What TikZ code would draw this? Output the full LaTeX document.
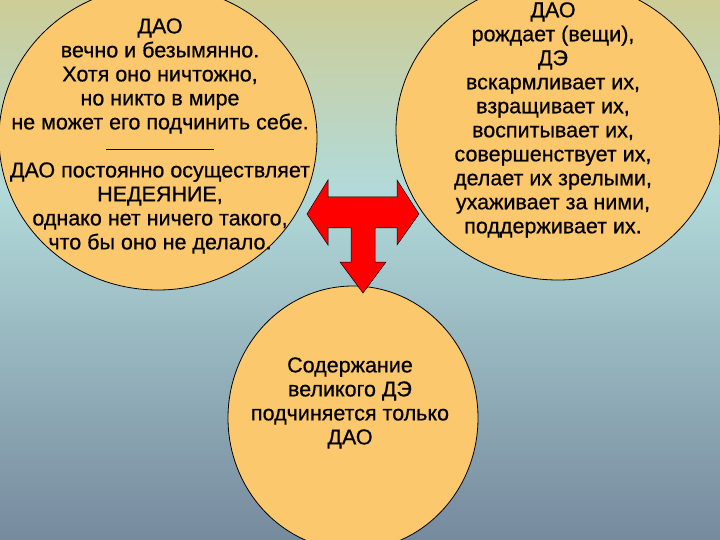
\documentclass[tikz,border=0pt]{standalone}
\usepackage{fontspec}
\setmainfont{Liberation Sans}[FakeBold=0.6]
\begin{document}
\begin{tikzpicture}[x=1pt,y=-1pt,
  circ/.style={fill={rgb,255:red,252;green,200;blue,110},draw=black,line width=0.8pt},
  txt/.style={align=center,font=\fontsize{21.5}{24}\selectfont}]
\useasboundingbox (0,0) rectangle (720,540);
\shade[top color={rgb,255:red,205;green,205;blue,150},bottom color={rgb,255:red,178;green,218;blue,218}] (0,0) rectangle (720,190);
\shade[top color={rgb,255:red,178;green,218;blue,218},bottom color={rgb,255:red,118;green,138;blue,158}] (0,190) rectangle (720,540);
\begin{scope}
\clip (0,0) rectangle (720,540);
\path[circ] (158,138) ellipse [x radius=159,y radius=152];
\path[circ] (558,130) ellipse [x radius=162,y radius=150];
\path[circ] (353,418) ellipse [x radius=125,y radius=132];
\end{scope}
\node[txt] (left) at (160,136) {ДАО\\вечно и безымянно.\\Хотя оно ничтожно,\\но никто в мире\\не может его подчинить себе.\\\rule[0.3ex]{107pt}{0.8pt}\\ДАО постоянно осуществляет\\НЕДЕЯНИЕ,\\однако нет ничего такого,\\что бы оно не делало.};
\node[txt] (right) at (553,120) {ДАО\\рождает (вещи),\\ДЭ\\вскармливает их,\\взращивает их,\\воспитывает их,\\совершенствует их,\\делает их зрелыми,\\ухаживает за ними,\\поддерживает их.};
\node[txt] (bottom) at (350,403) {Содержание\\великого ДЭ\\подчиняется только\\ДАО};
\draw[fill=red,draw=black,line width=0.5pt] (307,214) -- (328,180) -- (328,197) -- (397,197) -- (397,180) -- (419,214) -- (397,245) -- (397,228) -- (375,228) -- (375,262) -- (386,262) -- (363,293) -- (340,262) -- (351,262) -- (351,228) -- (328,228) -- (328,245) -- cycle;
\end{tikzpicture}
\end{document}
